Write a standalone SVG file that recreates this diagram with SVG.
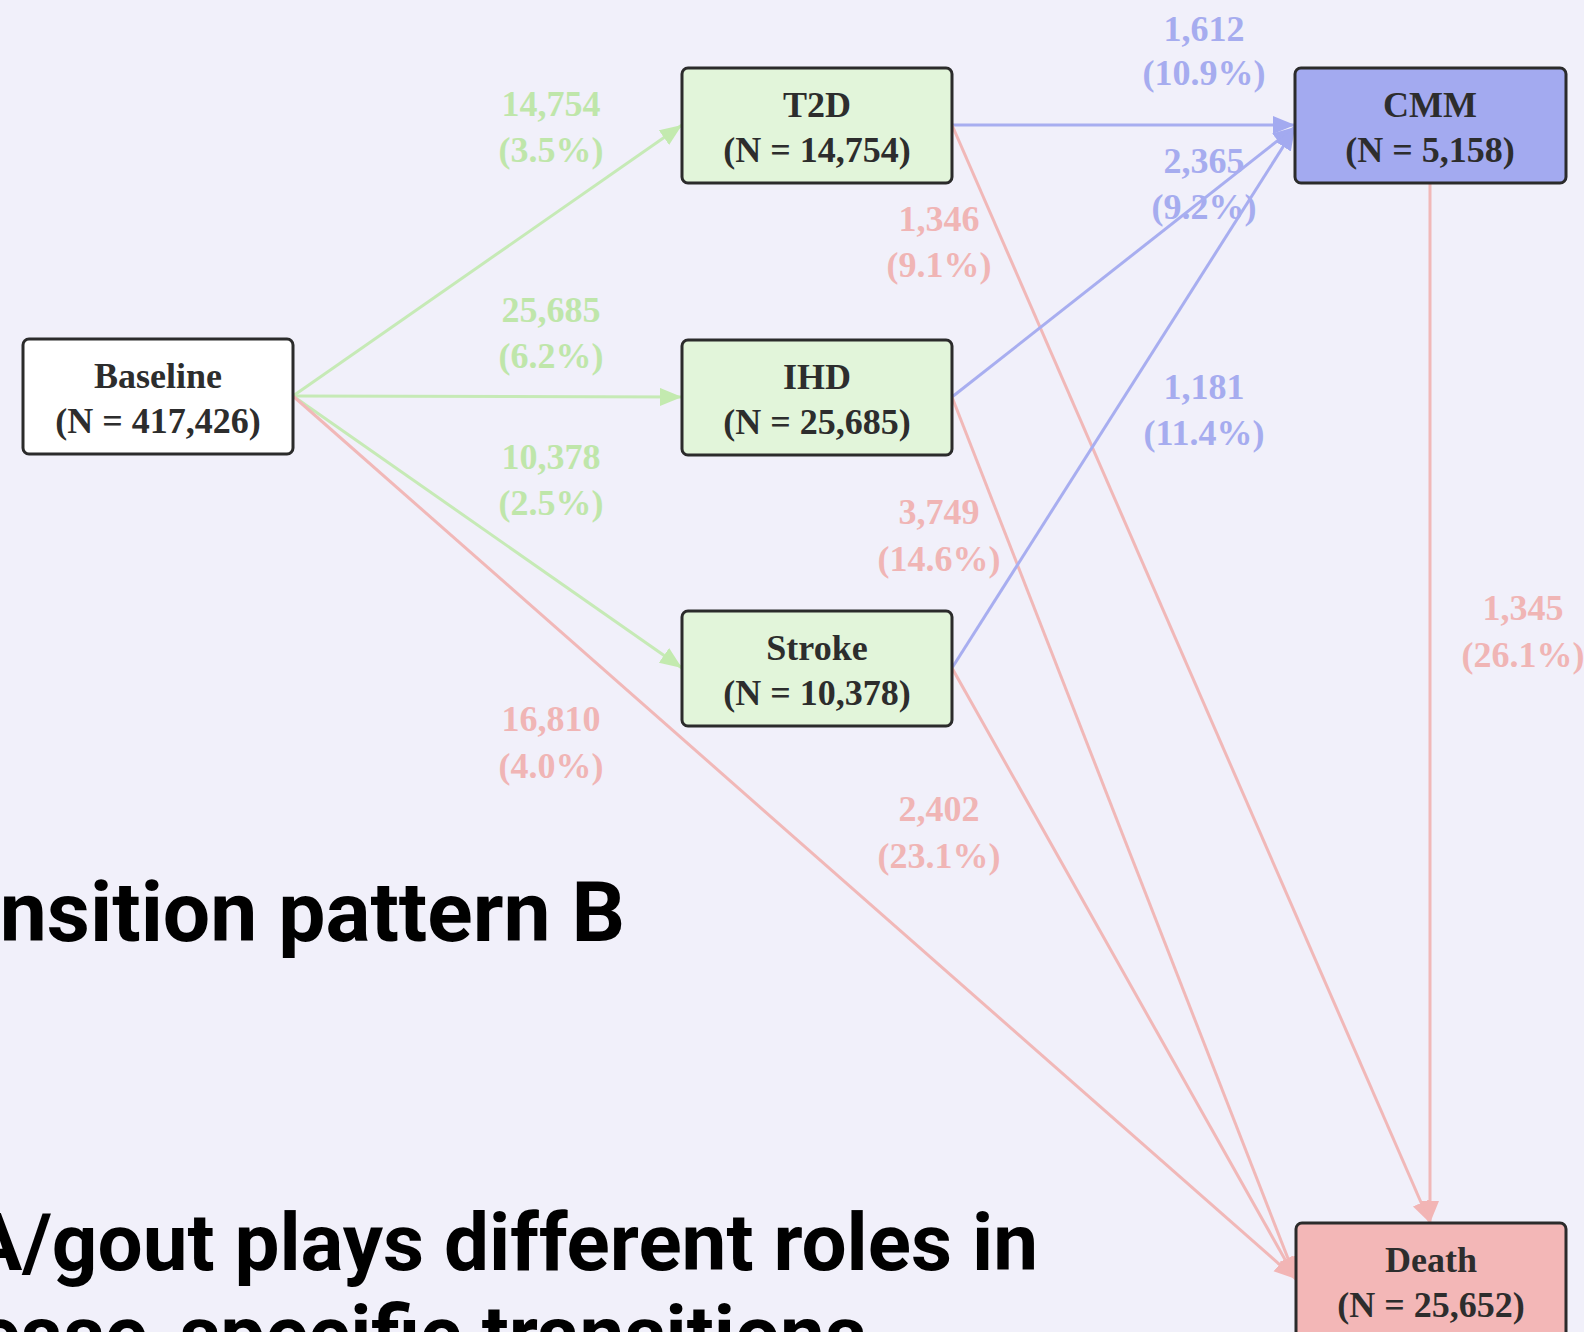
<svg xmlns="http://www.w3.org/2000/svg" width="1584" height="1332" viewBox="0 0 1584 1332">
<style>
.node rect{stroke:#2b2b2b;stroke-width:3}
.ntext{font-family:"Liberation Serif","Times New Roman",serif;font-weight:bold;font-size:36px;fill:#2d2d2d;text-anchor:middle}
.lbl{font-family:"Liberation Serif","Times New Roman",serif;font-weight:bold;font-size:36px;text-anchor:middle}
.lg{fill:#bfe6aa}.lp{fill:#f0b5b5}.lb{fill:#a6acef}
.eg{stroke:#c6eab6;stroke-width:3;fill:none}
.ep{stroke:#f1b8b8;stroke-width:3;fill:none}
.eb{stroke:#a8aef0;stroke-width:3;fill:none}
.title{font-family:Roboto,"Liberation Sans",sans-serif;font-weight:bold;font-size:80px;fill:#000;text-anchor:end}
</style>
<defs>
<marker id="ag" markerUnits="userSpaceOnUse" markerWidth="24" markerHeight="20" refX="22" refY="9" orient="auto"><path d="M0,0 L22,9 L0,18 z" fill="#c3eaaf"/></marker>
<marker id="ap" markerUnits="userSpaceOnUse" markerWidth="24" markerHeight="20" refX="22" refY="9" orient="auto"><path d="M0,0 L22,9 L0,18 z" fill="#f2b5b5"/></marker>
<marker id="ab" markerUnits="userSpaceOnUse" markerWidth="24" markerHeight="20" refX="22" refY="9" orient="auto"><path d="M0,0 L22,9 L0,18 z" fill="#a3aaf0"/></marker>
</defs>
<rect width="1584" height="1332" fill="#f1f0fa"/>
<g id="titles">
<text class="title" x="625" y="941" style="font-size:84px">nsition pattern B</text>
<text class="title" x="1038" y="1270">A/gout plays different roles in</text>
<text class="title" x="866" y="1362">ease-specific transitions</text>
</g>
<g id="labels">
<text class="lbl lg" x="551" y="116">14,754</text><text class="lbl lg" x="551" y="162">(3.5%)</text>
<text class="lbl lg" x="551" y="322">25,685</text><text class="lbl lg" x="551" y="368">(6.2%)</text>
<text class="lbl lg" x="551" y="469">10,378</text><text class="lbl lg" x="551" y="515">(2.5%)</text>
<text class="lbl lp" x="551" y="731">16,810</text><text class="lbl lp" x="551" y="778">(4.0%)</text>
<text class="lbl lp" x="939" y="231">1,346</text><text class="lbl lp" x="939" y="277">(9.1%)</text>
<text class="lbl lp" x="939" y="524">3,749</text><text class="lbl lp" x="939" y="571">(14.6%)</text>
<text class="lbl lp" x="939" y="821">2,402</text><text class="lbl lp" x="939" y="868">(23.1%)</text>
<text class="lbl lb" x="1204" y="41">1,612</text><text class="lbl lb" x="1204" y="85">(10.9%)</text>
<text class="lbl lb" x="1204" y="173">2,365</text><text class="lbl lb" x="1204" y="219">(9.2%)</text>
<text class="lbl lb" x="1204" y="399">1,181</text><text class="lbl lb" x="1204" y="445">(11.4%)</text>
<text class="lbl lp" x="1523" y="620">1,345</text><text class="lbl lp" x="1523" y="667">(26.1%)</text>
</g>
<g id="connectors">
<line class="eg" x1="293" y1="396" x2="682" y2="125" marker-end="url(#ag)"/>
<line class="eg" x1="293" y1="396" x2="682" y2="397" marker-end="url(#ag)"/>
<line class="eg" x1="293" y1="396" x2="682" y2="668" marker-end="url(#ag)"/>
<line class="ep" x1="293" y1="396" x2="1296" y2="1279" marker-end="url(#ap)"/>
<line class="eb" x1="952" y1="125" x2="1295" y2="125" marker-end="url(#ab)"/>
<line class="ep" x1="952" y1="125" x2="1430" y2="1223" marker-end="url(#ap)"/>
<line class="eb" x1="952" y1="397" x2="1295" y2="127" marker-end="url(#ab)"/>
<line class="ep" x1="952" y1="397" x2="1296" y2="1279" marker-end="url(#ap)"/>
<line class="eb" x1="952" y1="668" x2="1295" y2="128" marker-end="url(#ab)"/>
<line class="ep" x1="952" y1="668" x2="1296" y2="1279" marker-end="url(#ap)"/>
<line class="ep" x1="1430" y1="183" x2="1430" y2="1223" marker-end="url(#ap)"/>
</g>
<g id="baseline" class="node"><rect x="23" y="339" width="270" height="115" rx="6" fill="#ffffff"/><text class="ntext" x="158" y="388">Baseline</text><text class="ntext" x="158" y="433">(N = 417,426)</text></g>
<g id="t2d" class="node"><rect x="682" y="68" width="270" height="115" rx="6" fill="#e2f5da"/><text class="ntext" x="817" y="117">T2D</text><text class="ntext" x="817" y="162">(N = 14,754)</text></g>
<g id="ihd" class="node"><rect x="682" y="340" width="270" height="115" rx="6" fill="#e2f5da"/><text class="ntext" x="817" y="389">IHD</text><text class="ntext" x="817" y="434">(N = 25,685)</text></g>
<g id="stroke" class="node"><rect x="682" y="611" width="270" height="115" rx="6" fill="#e2f5da"/><text class="ntext" x="817" y="660">Stroke</text><text class="ntext" x="817" y="705">(N = 10,378)</text></g>
<g id="cmm" class="node"><rect x="1295" y="68" width="271" height="115" rx="6" fill="#a3aaf0"/><text class="ntext" x="1430" y="117">CMM</text><text class="ntext" x="1430" y="162">(N = 5,158)</text></g>
<g id="death" class="node"><rect x="1296" y="1223" width="270" height="115" rx="6" fill="#f3b7b7"/><text class="ntext" x="1431" y="1272">Death</text><text class="ntext" x="1431" y="1317">(N = 25,652)</text></g>
</svg>
